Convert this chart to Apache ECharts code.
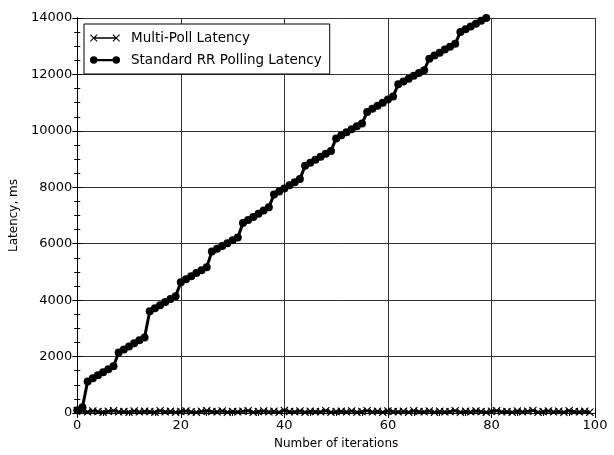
<!DOCTYPE html>
<html>
<head>
<meta charset="utf-8">
<script src="https://cdn.jsdelivr.net/npm/echarts@6/dist/echarts.min.js"></script>
<style>
  html, body { margin: 0; padding: 0; background: #fff; }
  #chart { width: 614px; height: 455px; }
</style>
</head>
<body>
<div id="chart"></div>
<script>
// Iteration indices
const multiPollIter = Array.from({ length: 100 }, (_, i) => i);
const standardIter = Array.from({ length: 80 }, (_, i) => i);

// Multi-Poll latency per iteration (ms)
const multiPollLatency = [
  90, 60, 40, 70, 50, 30, 60, 80, 40, 50,
  30, 70, 40, 60, 50, 30, 80, 40, 60, 30,
  50, 70, 40, 30, 60, 80, 50, 40, 70, 30,
  50, 40, 60, 80, 30, 50, 70, 40, 60, 30,
  90, 50, 40, 70, 30, 60, 50, 40, 80, 30,
  50, 60, 40, 70, 30, 50, 80, 40, 60, 30,
  70, 50, 40, 60, 30, 80, 50, 40, 70, 30,
  60, 40, 50, 80, 30, 60, 40, 70, 50, 30,
  60, 80, 40, 50, 30, 70, 40, 60, 90, 30,
  50, 70, 40, 60, 30, 80, 50, 40, 60, 30
];

// Standard round-robin polling latency per iteration (ms)
const standardLatency = [
  100, 200, 1120, 1230, 1340, 1440, 1550, 1660,
  2140, 2250, 2360, 2470, 2580, 2680,
  3610, 3710, 3820, 3930, 4040, 4140,
  4630, 4740, 4850, 4960, 5060, 5170,
  5720, 5820, 5920, 6020, 6120, 6220,
  6730, 6840, 6950, 7060, 7180, 7290,
  7740, 7850, 7960, 8070, 8180, 8290,
  8760, 8870, 8980, 9080, 9190, 9290,
  9730, 9840, 9950, 10060, 10160, 10260,
  10670, 10780, 10890, 11000, 11110, 11220,
  11650, 11750, 11850, 11950, 12050, 12150,
  12560, 12670, 12770, 12880, 12980, 13090,
  13500, 13600, 13700, 13800, 13900, 14000
];

// Axis ticks
const xTicks = { min: 0, max: 100, interval: 20 };
const yTicks = { min: 0, max: 14000, interval: 2000 };

const seriesNames = ['Multi-Poll Latency', 'Standard RR Polling Latency'];

const FONT = 'DejaVu Sans, Liberation Sans, Arial, sans-serif';
const crossPath = 'path://M0,1L1,0L5,4L9,0L10,1L6,5L10,9L9,10L5,6L1,10L0,9L4,5Z';
const crossLegend = 'path://M0,1L1,0L5,4L9,0L10,1L6,5L10,9L9,10L5,6L1,10L0,9L4,5Z' +
  'M5,4L35,4L35,6L5,6Z' +
  'M30,1L31,0L35,4L39,0L40,1L36,5L40,9L39,10L35,6L31,10L30,9L34,5Z';
const dotLegend = 'path://M0,5a5,5 0 1,0 10,0a5,5 0 1,0 -10,0Z' +
  'M10,3.5L30,3.5L30,6.5L10,6.5Z' +
  'M30,5a5,5 0 1,0 10,0a5,5 0 1,0 -10,0Z';

function frameAxis(extra) {
  return Object.assign({
    type: 'value',
    axisLine: { show: true, lineStyle: { color: '#000', width: 1 } },
    axisTick: { show: true, inside: true, length: 5, lineStyle: { color: '#000' } },
    minorTick: { show: true, splitNumber: 4, length: 3, lineStyle: { color: '#000' } },
    axisLabel: { show: false },
    splitLine: { show: false }
  }, extra);
}

const chart = echarts.init(document.getElementById('chart'), null, { renderer: 'canvas' });

chart.setOption({
  backgroundColor: '#fff',
  animation: false,
  textStyle: { fontFamily: FONT },
  grid: { left: 77, right: 19, top: 18, bottom: 37 },
  legend: {
    orient: 'vertical',
    left: 84,
    top: 24,
    padding: [7, 8, 7, 6],
    itemGap: 8,
    itemWidth: 30,
    itemHeight: 8,
    backgroundColor: '#fff',
    borderColor: '#000',
    borderWidth: 1,
    borderRadius: 0,
    textStyle: { fontFamily: FONT, fontSize: 13.5, color: '#000', padding: [0, 0, 0, 6] },
    data: [
      { name: seriesNames[0], icon: crossLegend, itemStyle: { color: '#000' } },
      { name: seriesNames[1], icon: dotLegend, itemStyle: { color: '#000' } }
    ]
  },
  xAxis: [
    frameAxis({
      min: xTicks.min, max: xTicks.max, interval: xTicks.interval,
      position: 'bottom',
      name: 'Number of iterations',
      nameLocation: 'middle',
      nameGap: 25,
      nameTextStyle: { fontFamily: FONT, fontSize: 12, color: '#000' },
      axisLabel: { show: true, margin: 6, fontFamily: FONT, fontSize: 13, color: '#000' },
      splitLine: { show: true, lineStyle: { color: '#333', width: 1 } }
    }),
    frameAxis({ min: xTicks.min, max: xTicks.max, interval: xTicks.interval, position: 'top' })
  ],
  yAxis: [
    frameAxis({
      min: yTicks.min, max: yTicks.max, interval: yTicks.interval,
      position: 'left',
      name: 'Latency, ms',
      nameLocation: 'middle',
      nameGap: 54,
      nameTextStyle: { fontFamily: FONT, fontSize: 12, color: '#000' },
      axisLabel: {
        show: true, margin: 5, fontFamily: FONT, fontSize: 13, color: '#000',
        formatter: (v) => String(v)
      },
      splitLine: { show: true, lineStyle: { color: '#333', width: 1 } }
    }),
    frameAxis({ min: yTicks.min, max: yTicks.max, interval: yTicks.interval, position: 'right' })
  ],
  series: [
    {
      name: seriesNames[0],
      type: 'line',
      data: multiPollIter.map((x, i) => [x, multiPollLatency[i]]),
      symbol: crossPath,
      symbolSize: 8,
      showAllSymbol: true,
      lineStyle: { color: '#000', width: 2.5 },
      itemStyle: { color: '#000' },
      z: 3
    },
    {
      name: seriesNames[1],
      type: 'line',
      data: standardIter.map((x, i) => [x, standardLatency[i]]),
      symbol: 'circle',
      symbolSize: 8,
      showAllSymbol: true,
      lineStyle: { color: '#000', width: 3 },
      itemStyle: { color: '#000' },
      z: 4
    }
  ]
});
</script>
</body>
</html>
